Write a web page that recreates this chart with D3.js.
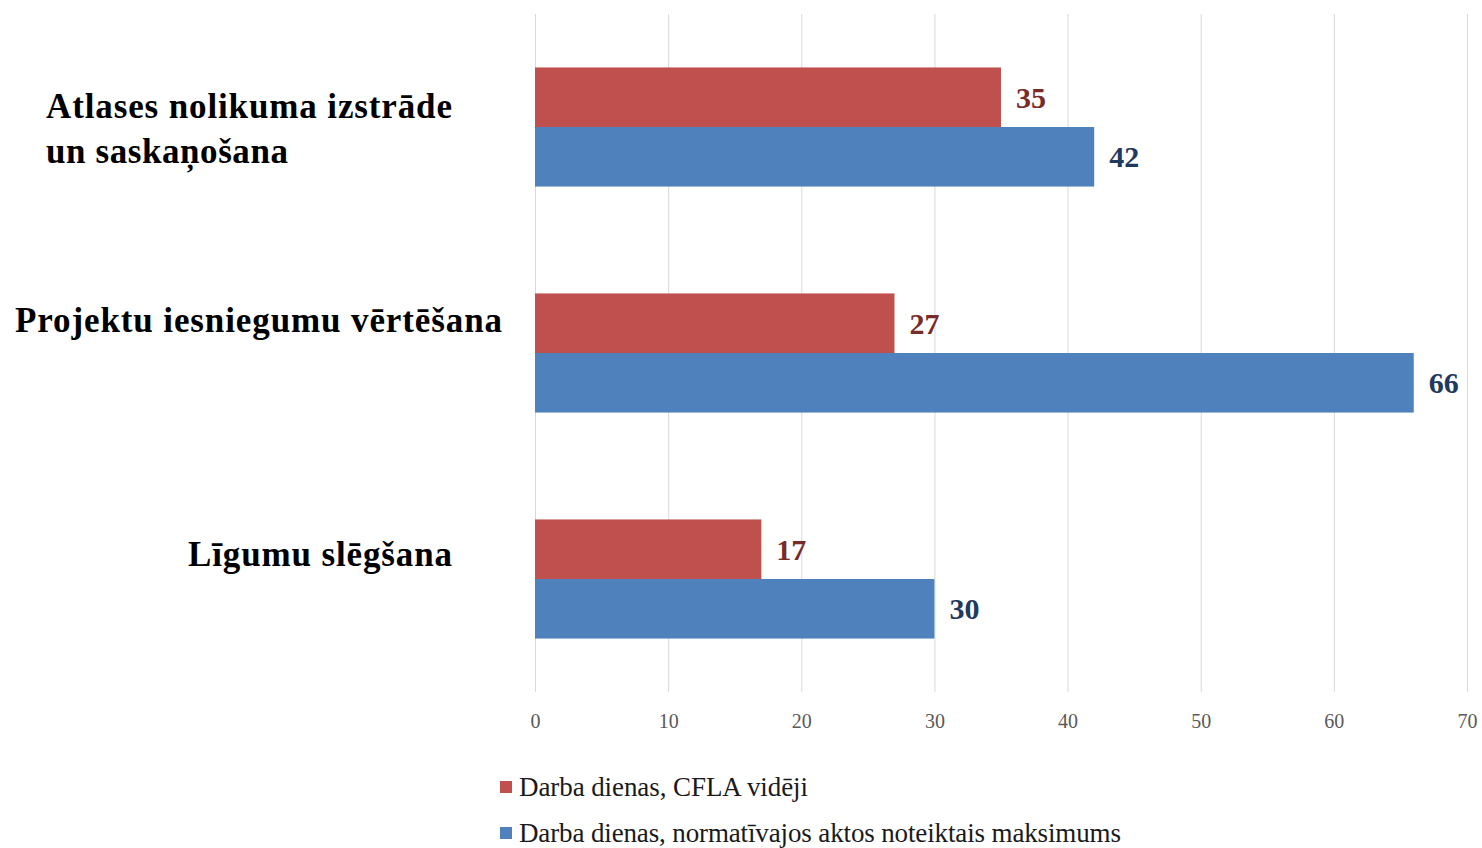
<!DOCTYPE html>
<html><head><meta charset="utf-8">
<script src="https://cdn.jsdelivr.net/npm/d3@7"></script>
<style>body{margin:0;background:#fff}svg{display:block}</style>
</head><body><svg id="c" width="1482" height="848"></svg>
<script>
const categories = ["Atlases nolikuma izstrāde un saskaņošana", "Projektu iesniegumu vērtēšana", "Līgumu slēgšana"];
const seriesNames = ["Darba dienas, CFLA vidēji", "Darba dienas, normatīvajos aktos noteiktais maksimums"];
const cflaValues = [35, 27, 17];
const maxValues = [42, 66, 30];
const xTicks = [0, 10, 20, 30, 40, 50, 60, 70];

const colors = ["#c0504d", "#4f81bd"];
const labelColors = ["#772c2a", "#1f3a60"];
const svg = d3.select("#c");
const x = d3.scaleLinear().domain([0, 70]).range([535, 1467]);
const y = d3.scaleBand().domain(categories).range([14, 692]).paddingInner(0.473).paddingOuter(0.2365);
const ys = d3.scaleBand().domain([0, 1]).range([0, y.bandwidth()]);
const serif = "'Liberation Serif','Times New Roman',serif";

// gridlines
svg.append("g").selectAll("line").data(xTicks).join("line")
  .attr("x1", d => x(d) + 0.5).attr("x2", d => x(d) + 0.5)
  .attr("y1", 14).attr("y2", 692)
  .attr("stroke", "#d9d9d9").attr("stroke-width", 1);

// axis labels
const ax = d3.axisBottom(x).tickValues(xTicks).tickSize(0).tickPadding(0);
const axg = svg.append("g").attr("transform", "translate(0,713)").call(ax);
axg.select(".domain").remove();
axg.selectAll("text").attr("font-family", serif).attr("font-size", 20).attr("fill", "#595959").attr("dy", "0.75em");

const data = categories.map((c, i) => ({c, vals: [cflaValues[i], maxValues[i]]}));
const g = svg.append("g");
data.forEach(d => {
  d.vals.forEach((v, s) => {
    const yy = y(d.c) + ys(s);
    g.append("rect").attr("x", x(0)).attr("y", yy).attr("width", x(v) - x(0)).attr("height", ys.bandwidth()).attr("fill", colors[s]);
    g.append("text").attr("x", x(v) + 15).attr("y", yy + ys.bandwidth() / 2).attr("dy", "0.35em")
      .attr("font-family", serif).attr("font-weight", "bold").attr("font-size", 30).attr("fill", labelColors[s]).text(v);
  });
});

// category labels
const catFont = 35;
function catText(xp, yp, txt, len) {
  return svg.append("text").attr("x", xp).attr("y", yp)
    .attr("font-family", serif).attr("font-weight", "bold").attr("font-size", catFont).attr("fill", "#000")
    .attr("textLength", len).attr("lengthAdjust", "spacing").text(txt);
}
const words0 = categories[0].split(" ");
const c0 = y(categories[0]) + y.bandwidth() / 2;
catText(46, c0 - 9, words0.slice(0, 3).join(" "), 406);
catText(46, c0 + 36, words0.slice(3).join(" "), 242);
catText(15, y(categories[1]) + y.bandwidth() / 2 - 21, categories[1], 487);
catText(188, y(categories[2]) + y.bandwidth() / 2 - 13, categories[2], 264);

// legend
const legendLens = [289, 602];
const lg = svg.append("g");
seriesNames.forEach((n, i) => {
  const ly = 787 + i * 46;
  lg.append("rect").attr("x", 500).attr("y", ly - 6).attr("width", 12).attr("height", 12).attr("fill", colors[i]);
  lg.append("text").attr("x", 519).attr("y", ly).attr("dy", "0.35em").attr("font-family", serif)
    .attr("font-size", 27).attr("fill", "#1a1a1a")
    .attr("textLength", legendLens[i]).attr("lengthAdjust", "spacing").text(n);
});
</script></body></html>
